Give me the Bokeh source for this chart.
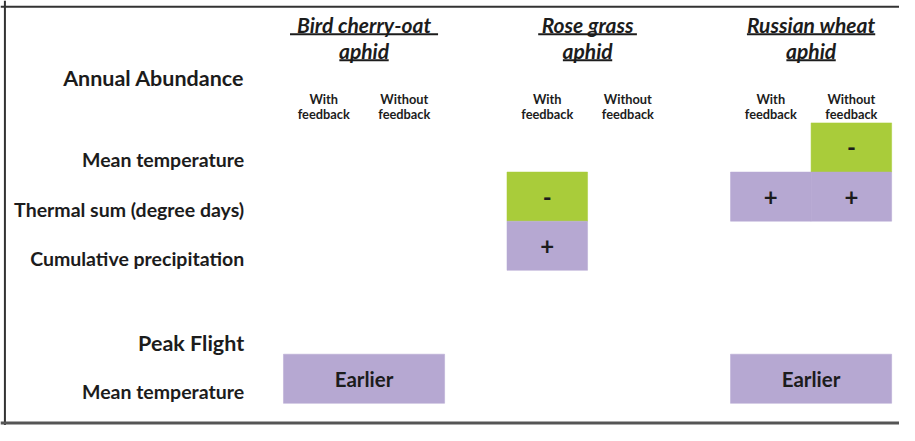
from bokeh.plotting import figure
from bokeh.models import ColumnDataSource, Range1d, Span
from bokeh.core.properties import value
from bokeh.embed import file_html
from bokeh.resources import INLINE

# ---------------- data ----------------
species = ["Bird cherry-oat", "Rose grass", "Russian wheat"]
species_suffix = "aphid"
feedback = ["With feedback", "Without feedback"]
sections = ["Annual Abundance", "Peak Flight"]
variables = ["Mean temperature", "Thermal sum (degree days)",
             "Cumulative precipitation", "Mean temperature"]
variable_section = ["Annual Abundance", "Annual Abundance",
                    "Annual Abundance", "Peak Flight"]

cell_species = ["Rose grass", "Rose grass", "Russian wheat", "Russian wheat",
                "Russian wheat", "Bird cherry-oat", "Russian wheat"]
cell_feedback = ["With feedback", "With feedback", "Without feedback",
                 "With feedback", "Without feedback", "Both", "Both"]
cell_variable = [1, 2, 0, 1, 1, 3, 3]
cell_effect = ["-", "+", "-", "+", "+", "Earlier", "Earlier"]

# ---------------- styles / layout ----------------
FONT = "Lato"
TXT = "#1c1c1c"
effect_color = {"-": "#A9CC3A", "+": "#B6A8D2", "Earlier": "#B6A8D2"}
col_w = 82.0
group_x0 = 288.0
group_step = 227.5
row_h = 51.0
section_top = {"Annual Abundance": 127.0, "Peak Flight": 367.0}
section_label_y = {"Annual Abundance": 80.0, "Peak Flight": 355.0}
label_right = 248.0

W, H = 899, 425
XR, YR = 915.0, 441.0
sx = W / XR
p = figure(width=W, height=H, output_backend="svg", toolbar_location=None,
           x_range=Range1d(0, XR), y_range=Range1d(YR, 0),
           min_border=0)
p.axis.visible = False
p.grid.visible = False
p.outline_line_color = None
p.background_fill_color = "white"
p.border_fill_color = "white"

def group_left(sp):
    return group_x0 + species.index(sp) * group_step

def row_top(j):
    sec = variable_section[j]
    first = variable_section.index(sec)
    return section_top[sec] + (j - first) * row_h

# ---- cells ----
L, R, T, B, CX, CY, TX, FS = [], [], [], [], [], [], [], []
for sp, fb, v, eff in zip(cell_species, cell_feedback, cell_variable, cell_effect):
    gl = group_left(sp)
    if fb == "Both":
        l, r = gl, gl + 2 * col_w
    else:
        k = feedback.index(fb)
        l, r = gl + k * col_w, gl + (k + 1) * col_w
    t = row_top(v)
    L.append(l); R.append(r); T.append(t); B.append(t + row_h)
    CX.append((l + r) / 2); CY.append(t + row_h / 2)
    TX.append(eff)
    FS.append("20.5px" if eff == "Earlier" else "24px")
cells = ColumnDataSource(dict(left=L, right=R, top=T, bottom=B, x=CX, y=CY,
                              text=TX, fs=FS,
                              color=[effect_color[e] for e in cell_effect]))
p.quad(left="left", right="right", top="top", bottom="bottom", source=cells,
       fill_color="color", line_color="color", line_width=0.5)
p.text(x="x", y="y", text="text", source=cells, text_font=value(FONT),
       text_font_style="bold", text_font_size="fs", text_align="center",
       text_baseline="middle", text_color=TXT)

# ---- row labels ----
lab_y = [row_top(j) + row_h / 2 + 13 for j in range(len(variables))]
p.text(x=[label_right] * len(variables), y=lab_y, text=variables,
       text_font=value(FONT), text_font_style="bold", text_font_size="19.5px",
       text_align="right", text_baseline="middle", text_color=TXT)
p.text(x=[label_right] * len(sections), y=[section_label_y[s] for s in sections],
       text=sections, text_font=value(FONT), text_font_style="bold",
       text_font_size="21.5px", text_align="right", text_baseline="middle",
       text_color=TXT)

# ---- column headers ----
hx, hy, ht = [], [], []
for sp in species:
    for k, fb in enumerate(feedback):
        cx = group_left(sp) + (k + 0.5) * col_w
        w1, w2 = fb.split(" ")
        hx += [cx, cx]; hy += [102, 118]; ht += [w1, w2]
p.text(x=hx, y=hy, text=ht, text_font=value(FONT), text_font_style="bold",
       text_font_size="12.8px", text_align="center", text_baseline="middle",
       text_color=TXT)

# ---- species titles (underlined) ----
TFS = 21.0
tx, ty, tt = [], [], []
ux0, ux1, uy = [], [], []
for sp in species:
    cx = group_left(sp) + col_w
    for line, yy in ((sp, 25), (species_suffix, 52)):
        tx.append(cx); ty.append(yy); tt.append(line)
        half = len(line) * 0.47 * TFS / sx / 2
        ux0.append(cx - half); ux1.append(cx + half); uy.append(yy + 10)
p.text(x=tx, y=ty, text=tt, text_font=value(FONT), text_font_style="bold italic",
       text_font_size=f"{TFS}px", text_align="center", text_baseline="middle",
       text_color=TXT)
p.segment(x0=ux0, y0=uy, x1=ux1, y1=uy, line_color=TXT, line_width=1.8)

# ---- frame lines ----
p.add_layout(Span(location=4.5, dimension="height", line_color="#333333", line_width=2))
p.add_layout(Span(location=6.5, dimension="width", line_color="#333333", line_width=2))
p.add_layout(Span(location=438.5, dimension="width", line_color="#555555", line_width=3))

open("out.html", "w").write(file_html(p, INLINE))
